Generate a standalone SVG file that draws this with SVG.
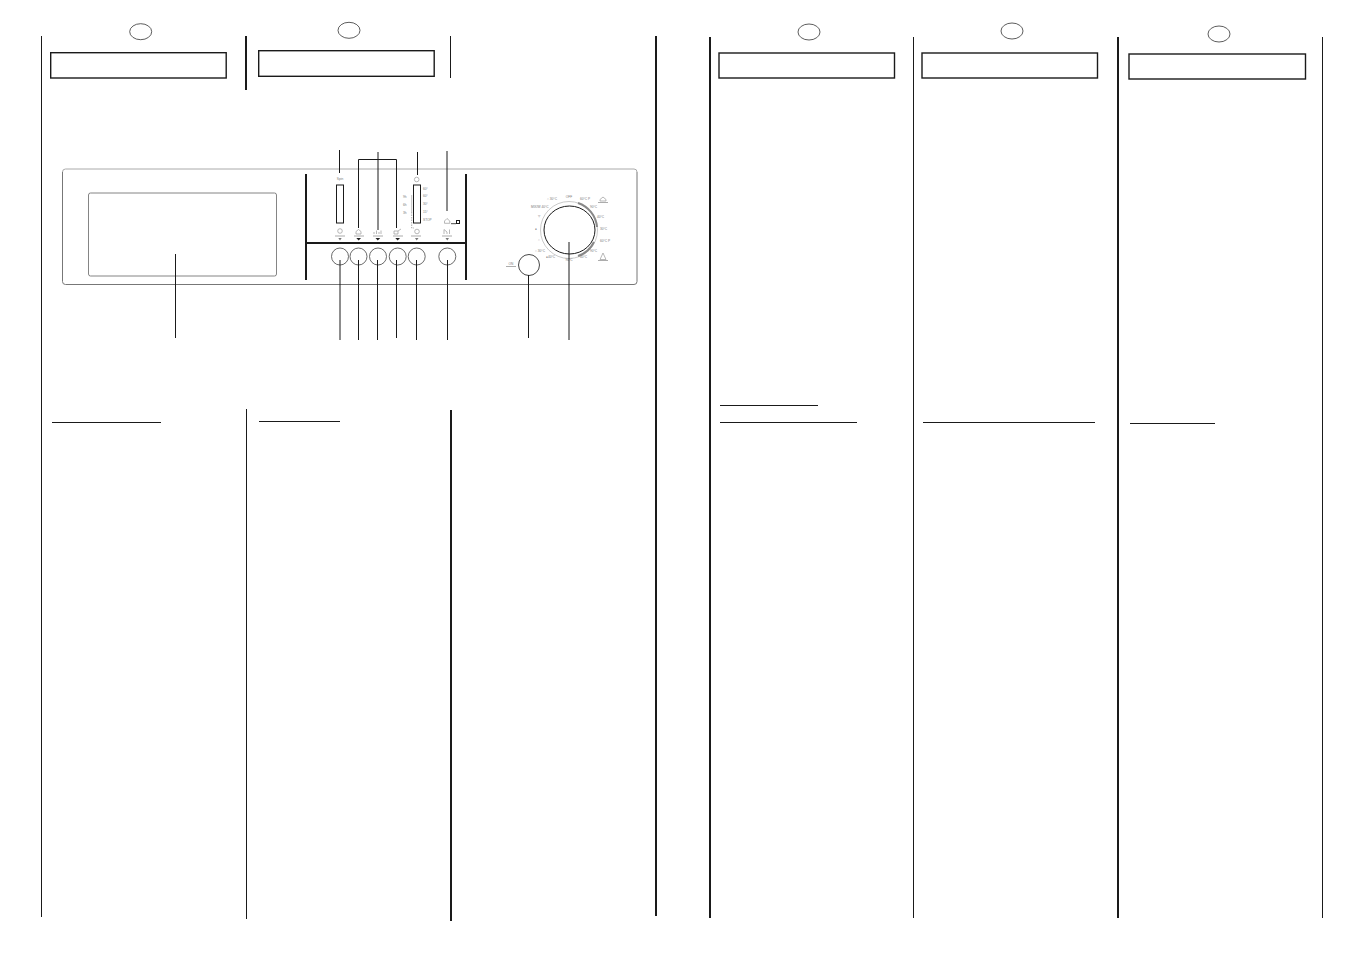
<svg xmlns="http://www.w3.org/2000/svg" width="1351" height="954" viewBox="0 0 1351 954">
<style>
.k{stroke:#1a1a1a;fill:none}
.t1{stroke-width:1}.t2{stroke-width:2}
.box{fill:none;stroke:#1a1a1a;stroke-width:1.4}
.el{fill:none;stroke:#333;stroke-width:.8}
text{font-family:"Liberation Sans",Arial,sans-serif;font-size:3.2px;fill:#777}
.sym{fill:none;stroke:#999;stroke-width:.7}
.ul{fill:none;stroke:#888;stroke-width:.7}
.tri{fill:#777}
.trd{fill:#222}
.btn{fill:none;stroke:#444;stroke-width:.8}
</style>
<rect width="1351" height="954" fill="#fff"/>
<g id="page-rules">
<path class="k t1" d="M41.500 36V917M246.500 409V919M450.500 36V78M913.500 37V918M1322.500 37V918"/>
<path class="k t2" d="M246 36V90M451 410V921M656 36V916M710 37V918M1118 37V918"/>
</g>
<g id="heading-1"><ellipse class="el" cx="140.700" cy="31.700" rx="11" ry="8"/><rect class="box" x="50.700" y="52.700" width="175.500" height="25.300"/></g>
<g id="heading-2"><ellipse class="el" cx="349" cy="30.300" rx="11" ry="8"/><rect class="box" x="258.700" y="50.700" width="175.500" height="25.600"/></g>
<g id="heading-3"><ellipse class="el" cx="809" cy="32" rx="11" ry="8"/><rect class="box" x="719" y="53" width="175.500" height="25"/></g>
<g id="heading-4"><ellipse class="el" cx="1012" cy="31" rx="11" ry="8"/><rect class="box" x="922" y="53" width="175.500" height="25"/></g>
<g id="heading-5"><ellipse class="el" cx="1219" cy="34" rx="11" ry="8"/><rect class="box" x="1129" y="54" width="176.500" height="25"/></g>
<g id="section-rules">
<path class="k t1" d="M52 422.500H161M259 421.500H340M720 405.500H818M720 422.500H857M923 422.500H1095M1130 423.500H1215"/>
</g>
<g id="panel">
<path d="M62.500 172A3 3 0 0 1 65.500 169H634A3 3 0 0 1 637 172" fill="none" stroke="#aaa" stroke-width="1"/>
<path d="M62.500 172V281.500A3 3 0 0 0 65.500 284.500H634A3 3 0 0 0 637 281.500V172" fill="none" stroke="#777" stroke-width="1"/>
<rect x="88.500" y="193" width="188" height="83" rx="2" fill="none" stroke="#666" stroke-width=".8"/>
<path class="k t2" d="M306 174V280M466 174V280M306 243H466"/>
</g>
<g id="spin-display"><text x="340" y="180" text-anchor="middle">Spin</text><rect x="336.500" y="185" width="7" height="38" fill="none" stroke="#1a1a1a" stroke-width="1"/></g>
<g id="delay-display">
<circle class="sym" cx="416.700" cy="179.500" r="2.300"/>
<rect x="413.500" y="185" width="7" height="38" fill="none" stroke="#1a1a1a" stroke-width="1"/>
<text x="423" y="189.500">60°</text><text x="423" y="197">60°</text><text x="423" y="204.500">30°</text><text x="423" y="213">15°</text><text x="423" y="220.500">STOP</text>
<text x="403" y="197.500">9h</text><text x="403" y="205.500">6h</text><text x="403" y="213.500">3h</text>
<path d="M411.700 195V212" fill="none" stroke="#999" stroke-width=".6"/>
<path d="M411.700 212V228H414" fill="none" stroke="#777" stroke-width=".6" stroke-dasharray="1.500 1"/>
</g>
<g id="door-lock"><path class="sym" d="M444.500 223.300V221L447 218.500L449.800 221V223.300Z"/><path class="k" stroke-width=".8" d="M451 223.700H456"/><rect x="456.500" y="220.500" width="3" height="3" fill="none" stroke="#1a1a1a" stroke-width="1"/></g>
<g id="button-1"><circle class="sym" cx="340" cy="231" r="2.300"/><path class="ul" d="M335 236H345"/><path class="tri" d="M338.300 238H341.700L340 240.500Z"/><circle class="btn" cx="340" cy="256.500" r="8.500"/></g>
<g id="button-2"><path class="sym" d="M356 234V231.500L358.500 229.500L361 231.500V234Z"/><path class="ul" d="M354 236H364"/><path class="trd" d="M356.300 238H361L358.700 240.500Z"/><circle class="btn" cx="358.500" cy="256.500" r="8.500"/></g>
<g id="button-3"><path class="sym" d="M374 234V232M376.500 234V230.500M379 234V232M381 234V230.500"/><path class="ul" d="M373 236H383"/><path class="trd" d="M375.500 238H380.200L377.800 240.500Z"/><circle class="btn" cx="378" cy="256.500" r="8.500"/></g>
<g id="button-4"><path class="sym" d="M394 234V231H398V234ZM398 231L401 229"/><path class="ul" d="M393 236H403"/><path class="trd" d="M395.300 238H400L397.700 240.500Z"/><circle class="btn" cx="397.700" cy="256.500" r="8.500"/></g>
<g id="button-5"><circle class="sym" cx="417" cy="231.500" r="2.300"/><path class="ul" d="M411 236H421"/><path class="tri" d="M415 238H418.500L416.700 240.500Z"/><circle class="btn" cx="416.700" cy="256.500" r="8.500"/></g>
<g id="button-6"><path class="sym" d="M444 234V229.500L447 232V234M449.500 229.500V234"/><path class="ul" d="M442 236H452"/><path class="tri" d="M445.500 238H449L447.300 240.500Z"/><circle class="btn" cx="447.300" cy="256.500" r="8.500"/></g>
<g id="on-button"><text x="511" y="264.500" text-anchor="middle">ON</text><path class="ul" d="M506 266.500H516"/><circle cx="529" cy="265" r="10.500" fill="none" stroke="#333" stroke-width=".9"/></g>
<g id="dial">
<circle cx="569" cy="230" r="28.500" fill="none" stroke="#bbb" stroke-width=".8"/>
<path d="M578 203A28 28 0 0 1 597 227" fill="none" stroke="#888" stroke-width="2"/>
<path d="M594 242A28 28 0 0 1 578 256" fill="none" stroke="#888" stroke-width="2"/>
<ellipse cx="569.500" cy="230" rx="25.500" ry="24" fill="none" stroke="#1a1a1a" stroke-width="1"/>
<text x="569" y="198" text-anchor="middle">OFF</text>
<text x="580" y="200">60°C P</text>
<text x="590" y="208">90°C</text>
<text x="597" y="217.500">40°C</text>
<text x="600" y="229.500">30°C</text>
<text x="600" y="242">60°C P</text>
<text x="590" y="252">90°C</text>
<text x="580" y="258">40°C</text>
<text x="569" y="261" text-anchor="middle">90°C</text>
<text x="546" y="258">●40°C</text>
<text x="535" y="252">⌂ 30°C</text>
<text x="538" y="241">⌂</text>
<text x="535" y="229.500">●</text>
<text x="538" y="217">▽</text>
<text x="531" y="207.500">MIX/W 40°C</text>
<text x="547" y="200">⌂ 30°C</text>
<path class="ul" d="M598 202.500H608"/>
<path class="sym" d="M600 201V199.500L603 197L606 199.500V201Z"/>
<path class="ul" d="M598 260.500H608"/>
<path class="sym" d="M600 259.500L603 253L606 259.500Z"/>
</g>
<g id="connectors">
<path class="k t1" d="M175.500 254V338M339.500 150V173M358.500 228V159.500H396.500V228M378 152V230M417.500 152V175M447 151V211M340 260V340M358.500 260V340M377.500 260V340M396.500 260V338M416.500 260V340M447.500 260V340M528.500 275V338M569 242V340"/>
</g>
</svg>
